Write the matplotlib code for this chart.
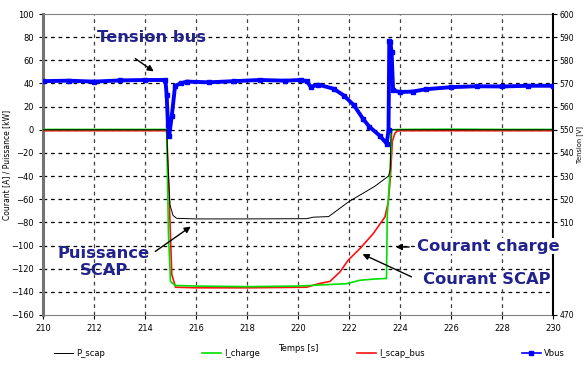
import matplotlib.pyplot as plt
from matplotlib.lines import Line2D

W, H = 584, 365

# ---------------- donnees
t_p = [210, 214.85, 214.9, 214.98, 215.1, 215.24, 216, 218, 220.34, 220.6, 221.2,
       222.0, 223.0, 223.55, 223.62, 223.65, 224, 230]
p_scap = [0, 0, -30, -65, -74, -76.5, -77, -77, -76.8, -75.5, -75,
          -62, -49, -40, -34, 0, 0, 0]

t_ic = [210, 214.85, 214.92, 215.0, 215.18, 216, 218, 220, 221.4, 221.9, 222.43,
        222.95, 223.4, 223.47, 223.5, 223.6, 223.68, 224, 226, 228, 230]
i_charge = [0.3, 0.3, -90, -131, -134.5, -135, -135.5, -135, -133.5, -133, -130,
            -129, -128.5, -128.5, -74, -40, 0, 0.3, 0.5, 0.3, 0.3]

t_is = [210, 214.85, 214.95, 215.05, 215.2, 216, 218, 220.34, 220.8, 221.25, 221.65,
        221.97, 222.43, 222.95, 223.41, 223.54, 223.62, 223.7, 223.8, 223.9, 224, 226, 230]
i_scap = [-0.8, -0.8, -60, -125, -136, -136.5, -136.5, -136, -133, -131, -122.7,
          -112.6, -102.6, -89.7, -75.3, -62.3, -42, -10, -3, -1, -0.8, -0.8, -0.8]

t_v = [210, 211, 212, 213, 214, 214.8, 214.85, 214.9, 214.95, 215.05, 215.18, 215.4,
       215.63, 216.5, 217.5, 218.5, 219.5, 220.1, 220.35, 220.5, 220.8, 221.4, 221.8,
       222.2, 222.55, 222.8, 223.2, 223.48, 223.55, 223.58, 223.62, 223.67, 223.73,
       224, 224.5, 225, 226, 227, 228, 229, 230]
vbus = [571, 571.2, 570.8, 571.3, 571.5, 571.5, 565, 552, 547.5, 556, 569, 570,
        570.8, 570.5, 571, 571.5, 571.2, 571.5, 571, 568.5, 569.5, 567.7, 564.8,
        560.5, 554.7, 551.3, 547.5, 544, 550, 588.5, 588, 583.6, 567,
        566.3, 566.5, 567.5, 568.4, 568.8, 568.7, 569, 569]

x_ticks = list(range(210, 231, 2))
y_ticks = list(range(-160, 101, 20))
v_ticks = [470] + list(range(510, 601, 10))

navy = '#22228c'


def fp(x, y):
    # pixels (haut-gauche) -> fraction figure
    return (x / W, 1 - y / H)


fig = plt.figure(figsize=(W / 100, H / 100), dpi=100)
ax = fig.add_axes([43 / W, 1 - 315 / H, 510 / W, 301 / H])

ax.set_xlim(210, 230)
ax.set_ylim(-160, 100)
ax.set_xticks(x_ticks)
ax.set_yticks(y_ticks)
ax.tick_params(labelsize=6, length=3, width=0.8)

# grille pointillee
for v in y_ticks[1:-1]:
    ax.axhline(v, color='black', lw=0.9, ls=(0, (3, 3)), zorder=0)
for v in x_ticks[1:-1]:
    ax.axvline(v, color='0.25', lw=0.9, ls=(0, (3, 3)), zorder=0)

for s in ('top', 'bottom'):
    ax.spines[s].set_color('0.5')
    ax.spines[s].set_linestyle((0, (1, 1)))
    ax.spines[s].set_linewidth(0.8)
ax.spines['left'].set_color('0.45')
ax.spines['left'].set_linewidth(2.2)
ax.spines['right'].set_visible(False)

ax.plot(t_is, i_scap, color='#ff1010', lw=1.2, zorder=3)
ax.plot(t_ic, i_charge, color='#00e000', lw=1.2, zorder=3)
ax.plot(t_p, p_scap, color='black', lw=0.7, zorder=4)

ax2 = ax.twinx()
ax2.set_ylim(470, 600)
ax2.set_yticks(v_ticks)
ax2.tick_params(labelsize=5.5, length=3, width=0.8, pad=1.5)
ax2.spines['right'].set_linewidth(1.5)
for s in ('top', 'bottom', 'left'):
    ax2.spines[s].set_visible(False)
ax2.plot(t_v, vbus, color='#0000ff', lw=2.8, marker='s', ms=2.8, zorder=5)

ax.set_xlabel('Temps [s]', fontsize=6, labelpad=8)
ax.set_ylabel('Courant [A] / Puissance [kW]', fontsize=5.5)
ax.yaxis.set_label_coords(-0.062, 0.5)
ax2.set_ylabel('Tension [V]', fontsize=4.8)
ax2.yaxis.set_label_coords(1.046, 0.565)

# annotations
tkw = dict(color=navy, fontsize=11.8, fontweight='bold', family='DejaVu Sans')
akw = dict(arrowstyle='-|>', color='black', lw=1.0, mutation_scale=9)
fig.text(*fp(97, 38), 'Tension bus', va='center', ha='left', **tkw)
ax.annotate('', xy=fp(156, 73), xytext=fp(133, 57), xycoords='figure fraction',
            textcoords='figure fraction', arrowprops=akw)
fig.text(*fp(104, 262), 'Puissance\nSCAP', va='center', ha='center',
         linespacing=1.2, **tkw)
ax.annotate('', xy=fp(193, 225), xytext=fp(153, 253), xycoords='figure fraction',
            textcoords='figure fraction', arrowprops=akw)
fig.text(*fp(417, 246), 'Courant charge', va='center', ha='left',
         bbox=dict(fc='white', ec='none', pad=0.5), **tkw)
ax.annotate('', xy=fp(393, 247), xytext=fp(412, 247), xycoords='figure fraction',
            textcoords='figure fraction', arrowprops=akw)
fig.text(*fp(423, 280), 'Courant SCAP', va='center', ha='left',
         bbox=dict(fc='white', ec='none', pad=0.5), **tkw)
ax.annotate('', xy=fp(360, 253), xytext=fp(414, 278), xycoords='figure fraction',
            textcoords='figure fraction', arrowprops=akw)

handles = [Line2D([], [], color='black', lw=0.7),
           Line2D([], [], color='#00e000', lw=1.2),
           Line2D([], [], color='#ff1010', lw=1.2),
           Line2D([], [], color='#0000ff', lw=1.2, marker='s', ms=3)]
fig.legend(handles, ['P_scap', 'I_charge', 'I_scap_bus', 'Vbus'], loc='lower left',
           ncol=4, mode='expand', bbox_to_anchor=(0.08, 0.0, 0.9, 0.05),
           frameon=False, fontsize=6, handlelength=2.2, handletextpad=0.4)

fig.savefig('out.png', dpi=100)
